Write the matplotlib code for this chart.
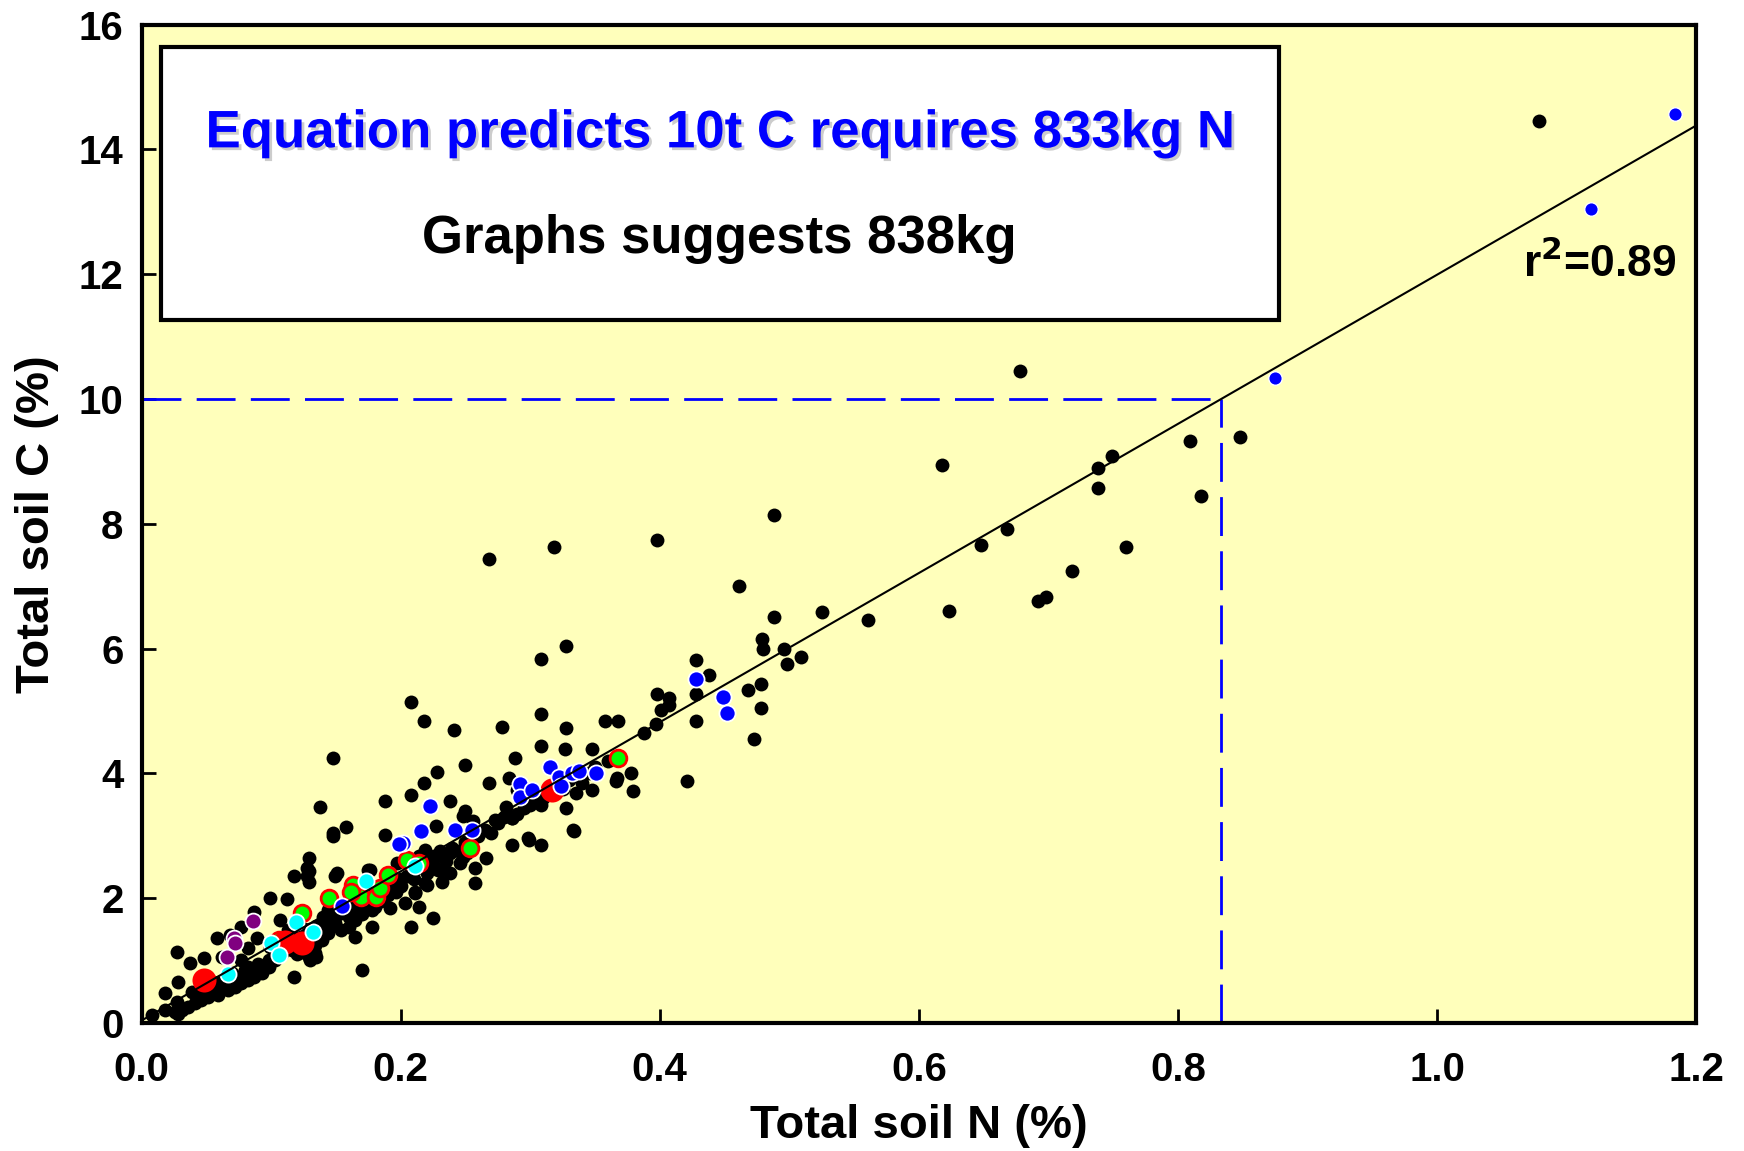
import matplotlib
matplotlib.use('Agg')
import matplotlib.pyplot as plt
import matplotlib.patheffects as pe
from matplotlib.patches import Rectangle
from matplotlib import font_manager

plt.rcParams['font.family'] = ['Liberation Sans', 'DejaVu Sans']
plt.rcParams['font.weight'] = 'bold'

# Soil survey points (N %, C %)
black_n = [1.079, 0.678, 0.848, 0.809, 0.818, 0.749, 0.738, 0.738, 0.618, 0.488, 0.398, 0.760,
           0.668, 0.648, 0.718, 0.692, 0.698, 0.623, 0.561, 0.525, 0.488, 0.461, 0.479, 0.480,
           0.496, 0.498, 0.509, 0.428, 0.438, 0.478, 0.468, 0.478, 0.473, 0.428, 0.428, 0.398,
           0.407, 0.407, 0.401, 0.397, 0.388, 0.368, 0.358, 0.378, 0.367, 0.379, 0.421, 0.268,
           0.318, 0.308, 0.328, 0.208, 0.218, 0.241, 0.278, 0.308, 0.328, 0.308, 0.148, 0.250,
           0.228, 0.288, 0.327, 0.348, 0.268, 0.284, 0.218, 0.208, 0.188, 0.238, 0.138, 0.158,
           0.148, 0.148, 0.188, 0.227, 0.250, 0.281, 0.286, 0.298, 0.308, 0.334, 0.273, 0.308,
           0.328, 0.335, 0.348, 0.366,
           0.274, 0.286, 0.333, 0.286, 0.299, 0.266, 0.257, 0.248, 0.238, 0.230, 0.223, 0.230,
           0.238, 0.129, 0.128, 0.128, 0.151, 0.176, 0.197, 0.211, 0.219, 0.257, 0.232, 0.246,
           0.251, 0.248, 0.256, 0.290,
           0.008, 0.018, 0.028, 0.018, 0.027, 0.028, 0.027, 0.037, 0.048, 0.039, 0.045, 0.054,
           0.059, 0.055, 0.058, 0.062, 0.068, 0.077, 0.087, 0.082, 0.089, 0.077, 0.082, 0.075,
           0.068, 0.085, 0.093, 0.098, 0.099, 0.099, 0.112, 0.107, 0.113, 0.117, 0.118, 0.124,
           0.129, 0.130, 0.134, 0.135, 0.129, 0.129, 0.118, 0.134, 0.139, 0.143, 0.144, 0.149,
           0.154, 0.160, 0.149, 0.165, 0.170, 0.178, 0.178, 0.175, 0.180, 0.185, 0.192, 0.196,
           0.198, 0.203, 0.208, 0.211, 0.214, 0.220, 0.225, 0.226, 0.229, 0.219, 0.214, 0.224,
           0.144, 0.154, 0.160, 0.167, 0.165, 0.149, 0.144, 0.139, 0.133, 0.124, 0.116, 0.108,
           0.103, 0.098, 0.093, 0.087, 0.082, 0.077, 0.072, 0.067, 0.062, 0.057, 0.051, 0.046,
           0.041, 0.036, 0.031, 0.026,
           0.110, 0.120, 0.125, 0.130, 0.135, 0.140, 0.145, 0.150, 0.155, 0.160, 0.170, 0.175,
           0.180, 0.185, 0.190, 0.195, 0.200, 0.205, 0.210, 0.215, 0.220, 0.225, 0.230, 0.235,
           0.240, 0.245, 0.250, 0.255, 0.260, 0.265, 0.270, 0.275, 0.280, 0.290, 0.295, 0.300,
           0.305, 0.310, 0.320, 0.325, 0.330, 0.340, 0.345, 0.350, 0.360, 0.170, 0.175, 0.185,
           0.190, 0.120, 0.105, 0.090, 0.080, 0.070, 0.065, 0.060, 0.055, 0.050, 0.045, 0.115,
           0.125, 0.135, 0.140, 0.160, 0.200, 0.210, 0.220]
black_c = [14.45, 10.44, 9.39, 9.32, 8.45, 9.08, 8.90, 8.57, 8.94, 8.14, 7.74, 7.62,
           7.91, 7.66, 7.24, 6.77, 6.82, 6.61, 6.46, 6.58, 6.50, 7.01, 6.15, 6.00,
           5.99, 5.75, 5.86, 5.82, 5.58, 5.44, 5.34, 5.04, 4.55, 5.27, 4.84, 5.28,
           5.20, 5.10, 5.02, 4.79, 4.64, 4.84, 4.84, 4.00, 3.92, 3.71, 3.88, 7.44,
           7.63, 5.84, 6.04, 5.14, 4.84, 4.69, 4.74, 4.95, 4.72, 4.44, 4.24, 4.13,
           4.03, 4.24, 4.39, 4.39, 3.84, 3.92, 3.84, 3.65, 3.55, 3.55, 3.46, 3.14,
           2.99, 3.04, 3.01, 3.15, 3.39, 3.46, 3.28, 2.96, 2.85, 3.08, 3.25, 3.50,
           3.44, 3.68, 3.73, 3.88,
           3.24, 3.28, 3.09, 2.85, 2.94, 2.64, 2.48, 2.66, 2.72, 2.75, 2.56, 2.45,
           2.40, 2.64, 2.48, 2.35, 2.40, 2.45, 2.56, 2.08, 2.24, 2.24, 2.26, 2.56,
           2.72, 3.31, 3.23, 3.73,
           0.13, 0.21, 0.15, 0.48, 0.34, 0.66, 1.14, 0.96, 1.04, 0.50, 0.40, 0.48,
           0.45, 0.66, 1.36, 1.06, 1.41, 1.54, 1.78, 1.20, 1.36, 1.01, 0.90, 0.74,
           0.58, 0.80, 0.90, 1.01, 1.22, 2.00, 1.98, 1.65, 1.49, 1.28, 0.74, 1.14,
           1.06, 1.01, 1.12, 1.06, 2.43, 2.26, 2.35, 1.25, 1.38, 1.49, 1.65, 1.60,
           1.49, 1.54, 2.35, 1.38, 0.85, 1.54, 1.81, 2.45, 1.86, 2.02, 1.84, 2.10,
           2.18, 1.92, 1.54, 2.10, 1.86, 2.21, 1.68, 2.67, 2.45, 2.77, 2.67, 2.51,
           1.81, 1.76, 1.70, 1.81, 1.65, 1.70, 1.44, 1.33, 1.22, 1.22, 1.17, 1.12,
           1.01, 0.90, 0.80, 0.74, 0.69, 0.64, 0.58, 0.53, 0.58, 0.53, 0.42, 0.37,
           0.32, 0.26, 0.21, 0.18,
           1.30, 1.40, 1.35, 1.50, 1.55, 1.60, 1.55, 1.80, 1.85, 1.90, 1.95, 2.00,
           2.10, 2.15, 2.20, 2.25, 2.30, 2.35, 2.45, 2.50, 2.60, 2.55, 2.70, 2.60,
           2.80, 2.75, 2.90, 2.95, 3.00, 3.10, 3.05, 3.20, 3.30, 3.35, 3.45, 3.50,
           3.55, 3.60, 3.70, 3.75, 3.90, 3.85, 4.00, 4.10, 4.20, 1.75, 1.85, 1.95,
           2.05, 1.10, 1.10, 0.95, 0.85, 0.80, 0.70, 0.65, 0.60, 0.55, 0.50, 1.35,
           1.50, 1.45, 1.70, 1.75, 2.20, 2.30, 2.40]

blue_n = [0.155, 0.202, 0.199, 0.216, 0.223, 0.242, 0.255, 0.292, 0.292, 0.301, 0.315, 0.322,
          0.324, 0.332, 0.338, 0.351, 0.428, 0.449, 0.452]
blue_c = [1.88, 2.88, 2.87, 3.08, 3.48, 3.10, 3.10, 3.83, 3.62, 3.73, 4.11, 3.95,
          3.80, 4.00, 4.04, 4.00, 5.52, 5.23, 4.96]
blue_hi_n = [0.875, 1.119, 1.184]
blue_hi_c = [10.33, 13.04, 14.57]

green_n = [0.106, 0.124, 0.145, 0.163, 0.169, 0.162, 0.181, 0.184, 0.190, 0.205, 0.214, 0.2535, 0.368]
green_c = [1.33, 1.76, 2.01, 2.21, 2.02, 2.10, 2.02, 2.16, 2.37, 2.62, 2.56, 2.80, 4.24]

cyan_n = [0.067, 0.100, 0.106, 0.119, 0.132, 0.173, 0.211]
cyan_c = [0.79, 1.29, 1.09, 1.62, 1.46, 2.28, 2.51]

purple_n = [0.086, 0.071, 0.072, 0.066]
purple_c = [1.63, 1.36, 1.29, 1.06]

red_n = [0.048, 0.111, 0.124, 0.317]
red_c = [0.69, 1.30, 1.28, 3.74]

# fitted line C = a*N + b
fit_a = 11.95
fit_b = 0.04
target_c = 10.0
target_n = 0.833

x_ticks = [0.0, 0.2, 0.4, 0.6, 0.8, 1.0, 1.2]
x_labels = ['0.0', '0.2', '0.4', '0.6', '0.8', '1.0', '1.2']
y_ticks = [0, 2, 4, 6, 8, 10, 12, 14, 16]

# narrow face for tick numbers if available
names = {f.name for f in font_manager.fontManager.ttflist}
tick_family = ['Liberation Sans Narrow'] if 'Liberation Sans Narrow' in names else ['Liberation Sans']

fig = plt.figure(figsize=(17.44, 11.51), dpi=100)
ax = fig.add_axes([0.0812, 0.1112, 0.8913, 0.8675])
ax.set_facecolor('#FFFFBB')
ax.set_xlim(0, 1.2)
ax.set_ylim(0, 16)

ax.scatter(black_n, black_c, s=100, color='black', linewidths=0, zorder=3)
ax.scatter(purple_n, purple_c, s=130, color='#800080', edgecolors='white', linewidths=1.3, zorder=4)
ax.scatter(green_n, green_c, s=145, color='#00FF00', edgecolors='red', linewidths=2, zorder=4)
ax.scatter(cyan_n, cyan_c, s=135, color='#00FFFF', edgecolors='white', linewidths=1.3, zorder=5)
ax.scatter(blue_n, blue_c, s=135, color='#0000FF', edgecolors='white', linewidths=1.3, zorder=5)
ax.scatter(blue_hi_n, blue_hi_c, s=95, color='#0000FF', edgecolors='white', linewidths=1.0, zorder=5)
ax.scatter(red_n, red_c, s=300, color='red', linewidths=0, zorder=4)

ax.plot([0, 1.2], [fit_b, fit_a * 1.2 + fit_b], color='black', lw=1.5, zorder=6)

ax.plot([0, target_n], [target_c, target_c], color='#0000FF', lw=2.0, ls=(0, (14, 5.5)), zorder=2)
ax.plot([target_n, target_n], [0, target_c], color='#0000FF', lw=2.0, ls=(0, (14, 5.5)), zorder=2)

for s in ax.spines.values():
    s.set_linewidth(3)
ax.tick_params(direction='in', length=10, width=2, labelsize=29, pad=13)
ax.tick_params(axis='x', pad=20)
ax.set_xticks(x_ticks)
ax.set_xticklabels(x_labels)
ax.set_yticks(y_ticks)
for lab in ax.get_xticklabels() + ax.get_yticklabels():
    lab.set_fontweight('bold')
    lab.set_family(tick_family)

ax.set_xlabel('Total soil N (%)', fontsize=34, fontweight='bold', labelpad=11)
ax.set_ylabel('Total soil C (%)', fontsize=34, fontweight='bold', labelpad=14)

# text box
box = Rectangle((0.0122, 0.7038), 0.7196, 0.2739, transform=ax.transAxes,
                facecolor='white', edgecolor='black', lw=3, zorder=7)
ax.add_patch(box)
ax.text(0.3716, 0.891, 'Equation predicts 10t C requires 833kg N', transform=ax.transAxes,
        ha='center', va='center', fontsize=38, fontweight='bold', color='#0000FF', zorder=8,
        path_effects=[pe.withSimplePatchShadow(offset=(2, -2), shadow_rgbFace='gray', alpha=0.4)])
ax.text(0.3716, 0.785, 'Graphs suggests 838kg', transform=ax.transAxes,
        ha='center', va='center', fontsize=38, fontweight='bold', color='black', zorder=8)

ax.text(0.9378, 0.7606, 'r$^{\\mathbf{2}}$=0.89', transform=ax.transAxes,
        ha='center', va='center', fontsize=32, fontweight='bold', color='black', zorder=8)

fig.savefig('out.png', dpi=100)
